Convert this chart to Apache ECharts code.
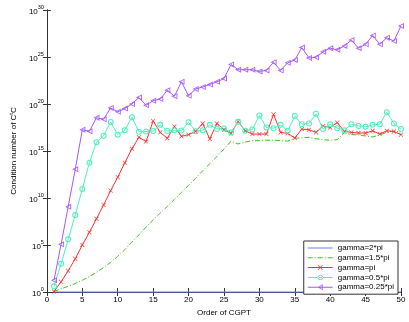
<!DOCTYPE html>
<html><head><meta charset="utf-8">
<script src="https://cdn.jsdelivr.net/npm/echarts@6/dist/echarts.min.js"></script>
<style>html,body{margin:0;padding:0;background:#fff}#c{width:409px;height:322px}</style>
</head><body><div id="c"></div>
<script>
// x: order of CGPT
const orders = [1,2,3,4,5,6,7,8,9,10,11,12,13,14,15,16,17,18,19,20,21,22,23,24,25,26,27,28,29,30,31,32,33,34,35,36,37,38,39,40,41,42,43,44,45,46,47,48,49,50];
// values stored as log10 of the condition number
const gamma2pi = [0,0,0,0,0,0,0,0,0,0,0,0,0,0,0,0,0,0,0,0,0,0,0,0,0,0,0,0,0,0,0,0,0,0,0,0,0,0,0,0,0,0,0,0,0,0,0,0,0,0];
const gamma15pi = [0.05,0.35,0.6,0.9,1.25,1.65,2.1,2.6,3.15,3.8,4.5,5.3,6.1,6.9,7.65,8.4,9.1,9.85,10.6,11.35,12.1,12.9,13.65,14.4,15.2,16.05,15.75,15.95,16.1,16.1,16.15,16.15,16.1,16.05,16.35,16.4,16.45,16.3,16.2,16.15,16.2,16.95,16.75,16.7,16.6,16.5,16.7,17.0,17.1,17.05];
const gammaPi = [0.05,1.08,2.25,3.54,5.0,6.35,7.8,9.25,10.78,12.22,13.75,15.24,16.46,16.0,18.2,16.98,16.35,17.6,16.56,16.74,17.08,17.92,16.28,17.92,17.26,16.87,18.13,17.15,16.8,16.8,16.8,18.9,16.98,16.87,16.39,17.33,17.26,16.98,17.67,17.5,18.02,17.08,16.98,16.91,16.91,17.15,16.8,17.15,17.08,16.74];
const gamma05pi = [0.6,3.0,5.6,8.2,10.97,13.75,15.94,16.63,18.09,16.74,17.22,18.6,17.05,17.08,17.12,17.78,17.12,17.2,17.18,18.05,17.1,17.2,17.78,17.35,17.4,16.98,18.1,17.15,17.3,18.78,17.5,17.43,17.78,17.15,18.72,17.84,17.92,18.96,17.33,17.84,17.43,17.22,17.84,17.67,17.57,17.78,17.84,19.13,17.92,17.33];
const gamma025pi = [1.25,5.07,9.06,13.05,17.26,17.1,18.54,18.37,19.58,19.17,19.51,20.0,20.7,19.86,20.35,20.52,21.46,20.83,22.36,20.87,21.6,21.8,22.08,22.36,22.7,24.2,23.65,23.65,23.65,23.47,23.57,24.44,23.57,24.38,24.69,26.0,24.9,24.97,25.55,25.94,25.76,26.18,26.8,25.94,26.35,27.29,26.35,27.05,26.7,28.3];
const seriesNames = ['gamma=2*pi','gamma=1.5*pi','gamma=pi','gamma=0.5*pi','gamma=0.25*pi'];
const xTicks = [0,5,10,15,20,25,30,35,40,45,50];
const yExpTicks = [0,5,10,15,20,25,30];

const FONT = 'Liberation Sans, Arial, sans-serif';
const COLORS = ['#6b7cff','#3fc021','#ff3030','#4ff0bc','#a855ff'];
const pair = arr => orders.map((x,i)=>[x, arr[i]]);
// marker shapes
const crossPath = 'path://M0,1L1,0L5,4L9,0L10,1L6,5L10,9L9,10L5,6L1,10L0,9L4,5Z';
const ringPath = 'path://M0,5A5,5,0,1,0,10,5A5,5,0,1,0,0,5ZM1.7,5A3.3,3.3,0,1,1,8.3,5A3.3,3.3,0,1,1,1.7,5Z';
const triPath = 'path://M0,5L10,0L10,10ZM2.9,5L8.6,7.85L8.6,2.15Z';
// legend icons
const iconSolid = 'path://M0,0h25v1h-25z';
const iconDashDot = 'path://M0,0h5v1h-5zM7,0h1v1h-1zM10,0h5v1h-5zM17,0h1v1h-1zM20,0h5v1h-5z';
const iconCross = 'path://M0,2h25v1h-25zM10,0.5L10.5,0L12.5,2L14.5,0L15,0.5L13,2.5L15,4.5L14.5,5L12.5,3L10.5,5L10,4.5L12,2.5Z';
const iconRing = 'path://M0,2.5h25v0.9h-25zM10,2.9A2.6,2.6,0,1,0,15.2,2.9A2.6,2.6,0,1,0,10,2.9ZM10.8,2.9A1.8,1.8,0,1,1,14.4,2.9A1.8,1.8,0,1,1,10.8,2.9Z';
const iconTri = 'path://M0,2.55h25v0.9h-25zM10,3L15,0L15,6ZM11.5,3L14.3,4.7L14.3,1.3Z';

const axisLine = {show:true, lineStyle:{color:'#333', width:1}};
const tick = {show:true, inside:true, length:4, lineStyle:{color:'#333'}};
const chart = echarts.init(document.getElementById('c'));
chart.setOption({
  animation:false,
  grid:{left:35, right:8, top:10, bottom:24, containLabel:false},
  xAxis:[{
    type:'value', min:0, max:50, interval:5, position:'bottom',
    axisLine:axisLine, axisTick:tick, splitLine:{show:false},
    axisLabel:{fontSize:8, color:'#000', fontFamily:FONT, margin:4},
    name:'Order of CGPT', nameLocation:'middle', nameGap:17,
    nameTextStyle:{fontSize:8, color:'#000', fontFamily:FONT}
  },{
    type:'value', min:0, max:50, interval:5, position:'top',
    axisLine:axisLine, axisTick:tick, splitLine:{show:false}, axisLabel:{show:false}
  }],
  yAxis:[{
    type:'value', min:0, max:30, interval:5, position:'left',
    axisLine:axisLine, axisTick:tick, splitLine:{show:false},
    axisLabel:{margin:3, formatter:v=>'{b|10}{s|'+v+'}',
      rich:{b:{fontSize:8, color:'#000', fontFamily:FONT, verticalAlign:'bottom'},
            s:{fontSize:5.5, color:'#000', fontFamily:FONT, verticalAlign:'bottom', padding:[0,0,5,0]}}},
    name:'{a|Condition number of C}{t|t}{a|C}', nameLocation:'middle', nameGap:25,
    nameTextStyle:{rich:{a:{fontSize:8, color:'#000', fontFamily:FONT, verticalAlign:'bottom'},
                        t:{fontSize:5.5, color:'#000', fontFamily:FONT, verticalAlign:'bottom', padding:[0,0,4,0]}}}
  },{
    type:'value', min:0, max:30, interval:5, position:'right',
    axisLine:axisLine, axisTick:tick, splitLine:{show:false}, axisLabel:{show:false}
  }],
  legend:{
    orient:'vertical', right:11, top:241, itemWidth:25, itemHeight:8, itemGap:1.8,
    padding:[3,4,3,4], borderColor:'#333', borderWidth:1, backgroundColor:'#fff',
    symbolKeepAspect:true,
    textStyle:{fontSize:8, lineHeight:8, color:'#000', fontFamily:FONT},
    data:[
      {name:seriesNames[0], icon:iconSolid},
      {name:seriesNames[1], icon:iconDashDot},
      {name:seriesNames[2], icon:iconCross},
      {name:seriesNames[3], icon:iconRing},
      {name:seriesNames[4], icon:iconTri}
    ]
  },
  series:[
    {name:seriesNames[0], type:'line', data:pair(gamma2pi), symbol:'none', clip:false,
     lineStyle:{color:COLORS[0], width:1}, itemStyle:{color:COLORS[0]}},
    {name:seriesNames[1], type:'line', data:pair(gamma15pi), symbol:'none',
     lineStyle:{color:COLORS[1], width:1, type:[5,2,1,2]}, itemStyle:{color:COLORS[1]}},
    {name:seriesNames[2], type:'line', data:pair(gammaPi), symbol:crossPath, symbolSize:4.5,
     lineStyle:{color:COLORS[2], width:1}, itemStyle:{color:COLORS[2]}},
    {name:seriesNames[3], type:'line', data:pair(gamma05pi), symbol:ringPath, symbolSize:6,
     lineStyle:{color:COLORS[3], width:1}, itemStyle:{color:COLORS[3]}},
    {name:seriesNames[4], type:'line', data:pair(gamma025pi), symbol:triPath, symbolSize:6,
     lineStyle:{color:COLORS[4], width:1}, itemStyle:{color:COLORS[4]}}
  ]
});
</script></body></html>
